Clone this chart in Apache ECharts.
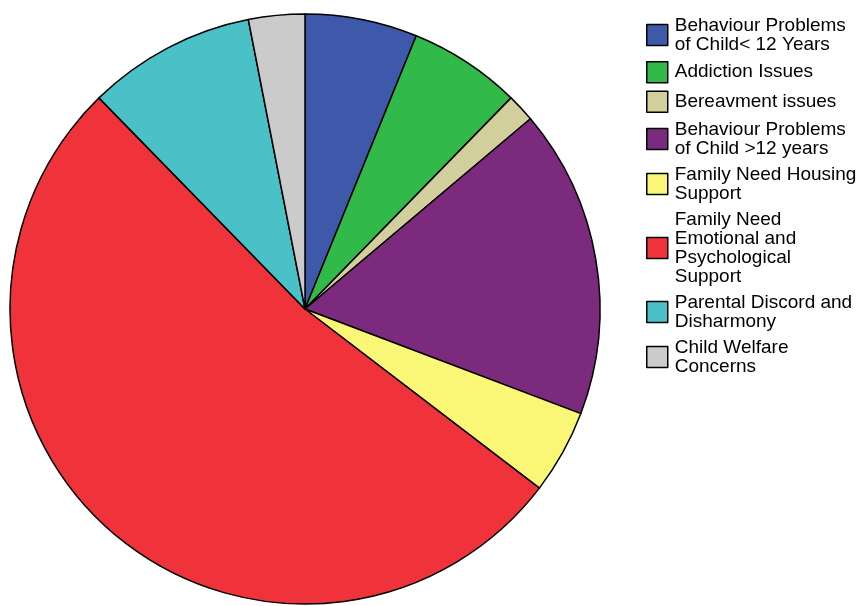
<!DOCTYPE html>
<html>
<head>
<meta charset="utf-8">
<script src="https://cdn.jsdelivr.net/npm/echarts@6/dist/echarts.min.js"></script>
<style>
  html, body { margin: 0; padding: 0; background: #fff; }
  #show { width: 861px; height: 606px; }
</style>
</head>
<body>
<div id="show"></div>
<script>
// categories and counts (clockwise from 12 o'clock)
var categories = [
  'Behaviour Problems of Child< 12 Years',
  'Addiction Issues',
  'Bereavment issues',
  'Behaviour Problems of Child >12 years',
  'Family Need Housing Support',
  'Family Need Emotional and Psychological Support',
  'Parental Discord and Disharmony',
  'Child Welfare Concerns'
];
var counts = [20, 20, 5, 55, 15, 170, 30, 10];
// legend text wrapped as in the picture
var legendLines = [
  'Behaviour Problems\nof Child< 12 Years',
  'Addiction Issues',
  'Bereavment issues',
  'Behaviour Problems\nof Child >12 years',
  'Family Need Housing\nSupport',
  'Family Need\nEmotional and\nPsychological\nSupport',
  'Parental Discord and\nDisharmony',
  'Child Welfare\nConcerns'
];
var colors = ['#3e58aa', '#31b94a', '#d3cf9d', '#7c2a7e', '#f9f775', '#f0333a', '#49c1c7', '#cbcbcb'];

var pieData = [];
for (var i = 0; i < categories.length; i++) {
  pieData.push({ name: categories[i], value: counts[i] });
}

var myChart = echarts.init(document.getElementById('show'));
myChart.setOption({
  animation: false,
  color: colors,
  legend: {
    orient: 'vertical',
    left: 641,
    top: 11,
    itemWidth: 21,
    itemHeight: 21,
    itemGap: 7,
    icon: 'rect',
    selectedMode: false,
    itemStyle: { borderColor: '#000', borderWidth: 1.5 },
    textStyle: {
      fontFamily: 'Liberation Sans',
      fontSize: 19,
      lineHeight: 19,
      color: '#000',
      padding: [0, 0, 0, 2]
    },
    formatter: function (name) {
      return legendLines[categories.indexOf(name)];
    },
    data: categories
  },
  series: [{
    type: 'pie',
    center: [305, 309],
    radius: [0, 295],
    startAngle: 90,
    clockwise: true,
    label: { show: false },
    labelLine: { show: false },
    emphasis: { disabled: true },
    itemStyle: { borderColor: '#000', borderWidth: 1.5 },
    data: pieData
  }]
});
</script>
</body>
</html>
